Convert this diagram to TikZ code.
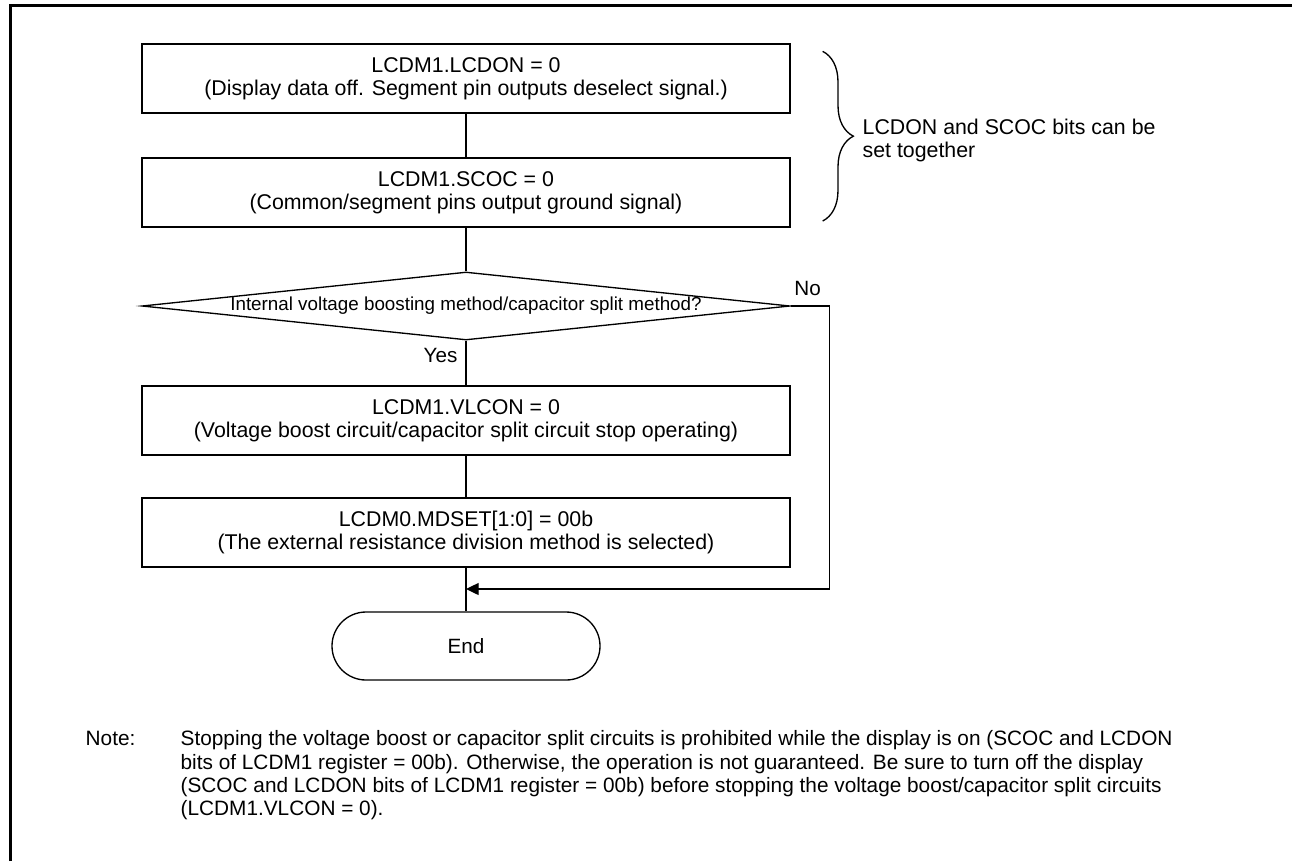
\documentclass[tikz,border=0pt]{standalone}
\usepackage{fontspec}
\setmainfont{Liberation Sans}
\usetikzlibrary{positioning,arrows.meta,shapes.geometric,decorations.pathreplacing}
\newcommand{\boxfont}{\fontsize{16pt}{17.5pt}\selectfont}
\newcommand{\labelfont}{\fontsize{15.5pt}{17.5pt}\selectfont}
\newcommand{\notefont}{\fontsize{15.6pt}{17.5pt}\selectfont}

\begin{document}
\begin{tikzpicture}[x=0.75pt,y=-0.75pt,line width=1pt,
    procbox/.style={draw,rectangle,minimum width=486pt,minimum height=51.75pt,inner sep=0pt,align=center,font=\boxfont},
    decbox/.style={draw,diamond,aspect=9.5,minimum width=486pt,minimum height=51pt,inner sep=0pt,font=\fontsize{14.1pt}{17pt}\selectfont},
    termbox/.style={draw,rectangle,rounded corners=25.5pt,minimum width=201pt,minimum height=51pt,font=\labelfont},
    flowarrow/.style={-{Triangle[length=9.5pt,width=9pt]}}]
    \useasboundingbox (0,0) rectangle (1292,861);
    \draw[line width=2.25pt] (10.5,861) -- (10.5,5.5) -- (1292,5.5);
    \node[procbox] (lcdon) at (466,78.5) {LCDM1.LCDON = 0\\(Display data off. Segment pin outputs deselect signal.)};
    \node[procbox] (scoc) at (466,192.5) {LCDM1.SCOC = 0\\(Common/segment pins output ground signal)};
    \node[decbox] (method) at (466,306) {Internal voltage boosting method/capacitor split method?};
    \node[procbox] (vlcon) at (466,420.5) {LCDM1.VLCON = 0\\(Voltage boost circuit/capacitor split circuit stop operating)};
    \node[procbox] (mdset) at (466,532.5) {LCDM0.MDSET[1:0] = 00b\\(The external resistance division method is selected)};
    \node[termbox] (stop) at (466,646) {End};
    \coordinate (merge) at (466,589);
    \draw (lcdon) -- (scoc);
    \draw (scoc) -- (method);
    \draw (method) -- (vlcon);
    \draw (vlcon) -- (mdset);
    \draw (mdset) -- (stop);
    \draw[flowarrow] (method.east) -- ++(39,0) |- (merge);
    \node[font=\labelfont,anchor=base east,inner sep=0pt] (yeslabel) at ([xshift=-6pt,yshift=-16.5pt]method.south) {Yes};
    \node[font=\labelfont,anchor=base west,inner sep=0pt] (nolabel) at ([xshift=2.25pt,yshift=8.25pt]method.east) {No};
    % brace over the two bits that may be written at once
    \draw[decorate,decoration={brace,amplitude=23pt}] ([xshift=24pt,yshift=-6pt]lcdon.north east) -- ([xshift=24pt,yshift=5pt]scoc.south east);
    \node[font=\boxfont,align=left,anchor=north west,inner sep=0pt] (bracetext) at (862,118) {LCDON and SCOC bits can be\\set together};
    \node[font=\notefont,anchor=base west,inner sep=0pt] (notelabel) at (85,745) {Note:};
    \node[font=\notefont,anchor=north west,inner sep=0pt,align=left] (notebody) at (180,730) {Stopping the voltage boost or capacitor split circuits is prohibited while the display is on (SCOC and LCDON\\bits of LCDM1 register = 00b). Otherwise, the operation is not guaranteed. Be sure to turn off the display\\(SCOC and LCDON bits of LCDM1 register = 00b) before stopping the voltage boost/capacitor split circuits\\(LCDM1.VLCON = 0).};
\end{tikzpicture}
\end{document}
